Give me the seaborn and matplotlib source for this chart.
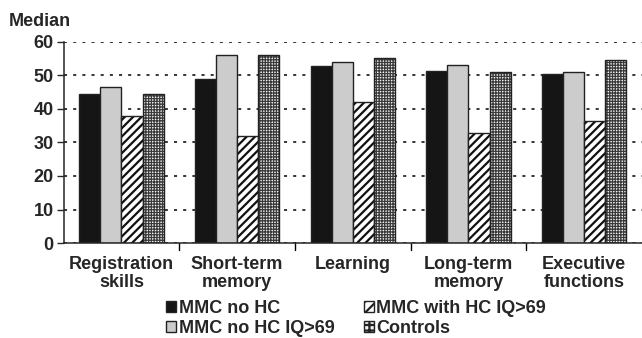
import pandas as pd
import matplotlib.pyplot as plt
import seaborn as sns
from matplotlib.patches import Patch

categories = ["Registration\nskills", "Short-term\nmemory", "Learning", "Long-term\nmemory", "Executive\nfunctions"]
groups = ["MMC no HC", "MMC no HC IQ>69", "MMC with HC IQ>69", "Controls"]
mmc_no_hc = [44.6, 49.0, 52.7, 51.4, 50.3]
mmc_no_hc_iq = [46.5, 56.2, 53.9, 53.0, 51.1]
mmc_hc_iq = [37.8, 31.8, 42.2, 32.8, 36.4]
controls = [44.6, 56.2, 55.2, 51.1, 54.5]

rows = []
for g, vals in zip(groups, [mmc_no_hc, mmc_no_hc_iq, mmc_hc_iq, controls]):
    for c, v in zip(categories, vals):
        rows.append({"domain": c, "group": g, "median": v})
df = pd.DataFrame(rows)

sns.set_style("white")
plt.rcParams["font.family"] = ["Liberation Sans", "DejaVu Sans"]
plt.rcParams["font.weight"] = "bold"
plt.rcParams["hatch.linewidth"] = 1.6

FS = 13
faces = ["#151515", "#cccccc", "white", "#f2f2f2"]
hatches = [None, None, "////", "++++++"]
hatch_cols = ["#222222", "#222222", "#111111", "#3a3a3a"]
hatch_lw = [None, None, 1.6, 0.9]

fig = plt.figure(figsize=(6.42, 3.38), dpi=100)
ax = fig.add_axes([0.099, 0.281, 0.901, 0.595])
sns.barplot(data=df, x="domain", y="median", hue="group", hue_order=groups,
            palette=faces, width=0.73, gap=0, saturation=1, ax=ax, legend=False)

# style each bar group: hatches and dark outline
for i, cont in enumerate(ax.containers):
    for bar in cont:
        bar.set_facecolor(faces[i])
        if hatches[i]:
            bar.set_hatch(hatches[i])
            bar.set_edgecolor(hatch_cols[i])
            bar.set_linewidth(0)
            if hasattr(bar, "set_hatch_linewidth"):
                bar.set_hatch_linewidth(hatch_lw[i])
            x, y = bar.get_xy()
            ax.add_patch(plt.Rectangle((x, y), bar.get_width(), bar.get_height(),
                                       fill=False, edgecolor="#222222", lw=1.0, zorder=3))
        else:
            bar.set_edgecolor("#222222")
            bar.set_linewidth(1.0)

ax.set_ylim(0, 60)
ax.set_xlim(-0.5, 4.5)
ax.set_yticks(range(0, 61, 10))
ax.yaxis.grid(True, color="black", linestyle=(0, (2, 4)), linewidth=1.1)
ax.set_axisbelow(True)
ax.set_xticks(range(len(categories)))
ax.set_xticklabels(categories, fontsize=FS, fontweight="bold", linespacing=1.1)
ax.tick_params(axis="x", length=0, pad=9)
ax.tick_params(axis="y", labelsize=FS, length=5, width=1, left=True, direction="out", pad=2)
for b in [0.5, 1.5, 2.5, 3.5]:
    ax.plot([b, b], [0, -0.035], transform=ax.get_xaxis_transform(), color="black", lw=1, clip_on=False)
sns.despine(ax=ax, top=True, right=True)
ax.spines["left"].set_linewidth(1.1)
ax.spines["bottom"].set_linewidth(1.1)
ax.set_xlabel("")
ax.set_ylabel("")
fig.text(0.013, 0.937, "Median", fontsize=FS, fontweight="bold", va="center")

handles = [Patch(facecolor=faces[i], edgecolor="#222222",
                 hatch=("///" if i == 2 else ("+++" if i == 3 else None)))
           for i in range(4)]
fig.legend(handles, groups, loc="center", bbox_to_anchor=(0.555, 0.058), ncol=2, frameon=False,
           fontsize=FS, handlelength=0.55, handleheight=0.55, handletextpad=0.15,
           columnspacing=1.6, labelspacing=0.15, borderpad=0)

fig.savefig("out.png", dpi=100)
